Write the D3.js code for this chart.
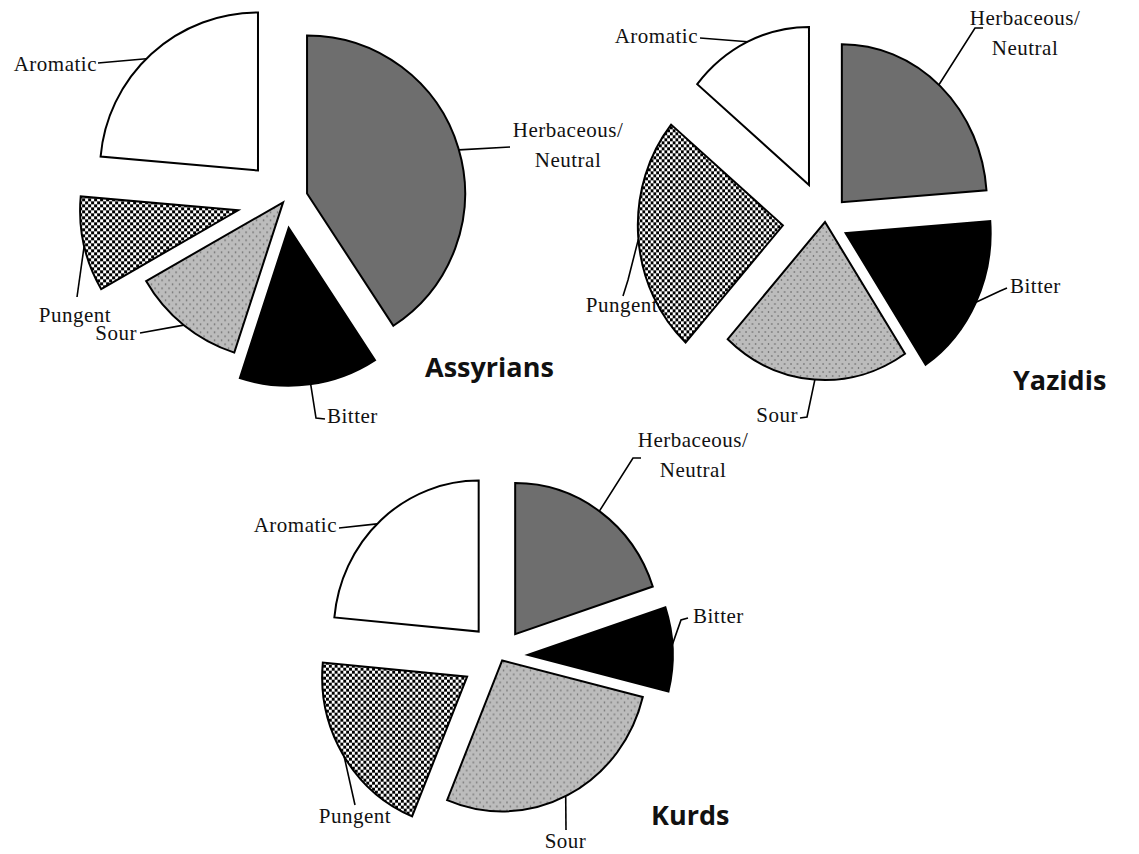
<!DOCTYPE html>
<html>
<head>
<meta charset="utf-8">
<script src="https://cdn.jsdelivr.net/npm/d3@7"></script>
<style>
  body { margin: 0; background: #fff; }
  .lbl { font-family: "Liberation Serif", "Times New Roman", serif; font-size: 21px; letter-spacing: 0.5px; fill: #111; }
  .ttl { font-family: "Open Sans", sans-serif; font-weight: 700; font-size: 27px; fill: #111; }
</style>
</head>
<body>
<script>
// flavour categories, clockwise from 12 o'clock
const categories = ["Herbaceous/Neutral", "Bitter", "Sour", "Pungent", "Aromatic"];

// share of each flavour (%)
const assyrians = [40.8, 14.2, 11.7, 9.7, 23.6];
const yazidis   = [23.8, 16.9, 21.0, 24.3, 14.0];
const kurds     = [19.9, 9.0, 27.3, 20.3, 23.5];

const groups = ["Assyrians", "Yazidis", "Kurds"];

// layout only (no data): centre, radius, horizontal squash, explode distance per slice
const layouts = [
  { cx: 285, cy: 200, r: 158, sx: 1.0,   explode: [23, 28, 3, 48, 40], title: [140, 177],
    anchors: [74, 172, 219, 257, 315] },
  { cx: 825, cy: 222, r: 158, sx: 0.918, explode: [27, 25, 0, 46, 41], title: [188, 168],
    anchors: [42, 116, 184, 265, 335] },
  { cx: 500, cy: 656, r: 151, sx: 0.96,  explode: [27, 29, 5, 40, 33], title: [151, 169],
    anchors: [35.5, 86, 154, 238, 315.5] }
];

// label placement relative to centre: text pos, anchor, leader points after the arc point
const labelPos = [
  [
    { t: [283, -63], a: "middle", pts: [[225, -53]] },
    { t: [42, 223], a: "start", pts: [[31, 218], [40, 219]] },
    { t: [-148, 140], a: "end", pts: [[-145, 133]] },
    { t: [-210, 122], a: "middle", pts: [[-208, 97]] },
    { t: [-188, -129], a: "end", pts: [[-187, -137]] }
  ],
  [
    { t: [200, -197], a: "middle", pts: [[150, -194], [158, -194]] },
    { t: [185, 71], a: "start", pts: [[175, 69], [182, 66]] },
    { t: [-27, 200], a: "end", pts: [[-18, 195], [-25, 196]] },
    { t: [-203, 90], a: "middle", pts: [[-197, 58], [-202, 74]] },
    { t: [-127, -179], a: "end", pts: [[-125, -184]] }
  ],
  [
    { t: [193, -209], a: "middle", pts: [[133, -198], [141, -198]] },
    { t: [193, -33], a: "start", pts: [[181, -36], [188, -38]] },
    { t: [65.5, 192], a: "middle", pts: [[66, 174]] },
    { t: [-145, 167], a: "middle", pts: [[-145, 149]] },
    { t: [-163, -124], a: "end", pts: [[-161, -128]] }
  ]
];

const fills = ["#6e6e6e", "#000", "url(#dots)", "url(#checker)", "#fff"];

const svg = d3.select("body").append("svg")
  .attr("width", 1139)
  .attr("height", 854);

svg.append("rect").attr("width", 1139).attr("height", 854).attr("fill", "#fff");

// patterns
const defs = svg.append("defs");
const checker = defs.append("pattern").attr("id", "checker")
  .attr("patternUnits", "userSpaceOnUse").attr("width", 6).attr("height", 6);
checker.append("rect").attr("width", 6).attr("height", 6).attr("fill", "#fff");
checker.append("rect").attr("width", 3).attr("height", 3).attr("fill", "#000");
checker.append("rect").attr("x", 3).attr("y", 3).attr("width", 3).attr("height", 3).attr("fill", "#000");

const dots = defs.append("pattern").attr("id", "dots")
  .attr("patternUnits", "userSpaceOnUse").attr("width", 7).attr("height", 8);
dots.append("rect").attr("width", 7).attr("height", 8).attr("fill", "#bcbcbc");
dots.append("circle").attr("cx", 1.5).attr("cy", 2).attr("r", 0.8).attr("fill", "#555");
dots.append("circle").attr("cx", 5).attr("cy", 6).attr("r", 0.8).attr("fill", "#555");

const pie = d3.pie().sort(null).value(d => d);
const rad = Math.PI / 180;
const line = d3.line().curve(d3.curveLinear);

[assyrians, yazidis, kurds].forEach((values, k) => {
  const L = layouts[k];
  const arc = d3.arc().innerRadius(0).outerRadius(L.r);
  const arcs = pie(values);

  const g = svg.append("g")
    .attr("transform", `translate(${L.cx},${L.cy}) scale(${L.sx},1)`);

  g.selectAll("path")
    .data(arcs)
    .enter()
    .append("path")
    .attr("d", arc)
    .attr("transform", (d, i) => {
      let mid = (d.startAngle + d.endAngle) / 2;
      return `translate(${L.explode[i] * Math.sin(mid)},${-L.explode[i] * Math.cos(mid)})`;
    })
    .attr("fill", (d, i) => fills[i])
    .attr("stroke", "#000")
    .attr("stroke-width", 2)
    .attr("stroke-linejoin", "miter")
    .attr("vector-effect", "non-scaling-stroke");

  // labels + leader lines
  const lg = svg.append("g").attr("transform", `translate(${L.cx},${L.cy})`);
  arcs.forEach((d, i) => {
    let mid = (d.startAngle + d.endAngle) / 2;
    let a = L.anchors[i] * rad;
    let px = (L.explode[i] * Math.sin(mid) + L.r * Math.sin(a)) * L.sx;
    let py = -L.explode[i] * Math.cos(mid) - L.r * Math.cos(a);
    let lp = labelPos[k][i];

    lg.append("path")
      .attr("d", line([[px, py]].concat(lp.pts)))
      .attr("fill", "none")
      .attr("stroke", "#000")
      .attr("stroke-width", 1.6);

    let words = categories[i].includes("/") ? ["Herbaceous/", "Neutral"] : [categories[i]];
    words.forEach((w, j) => {
      lg.append("text")
        .attr("class", "lbl")
        .attr("x", lp.t[0])
        .attr("y", lp.t[1] + j * 30)
        .attr("text-anchor", lp.a)
        .text(w);
    });
  });

  lg.append("text")
    .attr("class", "ttl")
    .attr("x", L.title[0])
    .attr("y", L.title[1])
    .text(groups[k]);
});
</script>
</body>
</html>
